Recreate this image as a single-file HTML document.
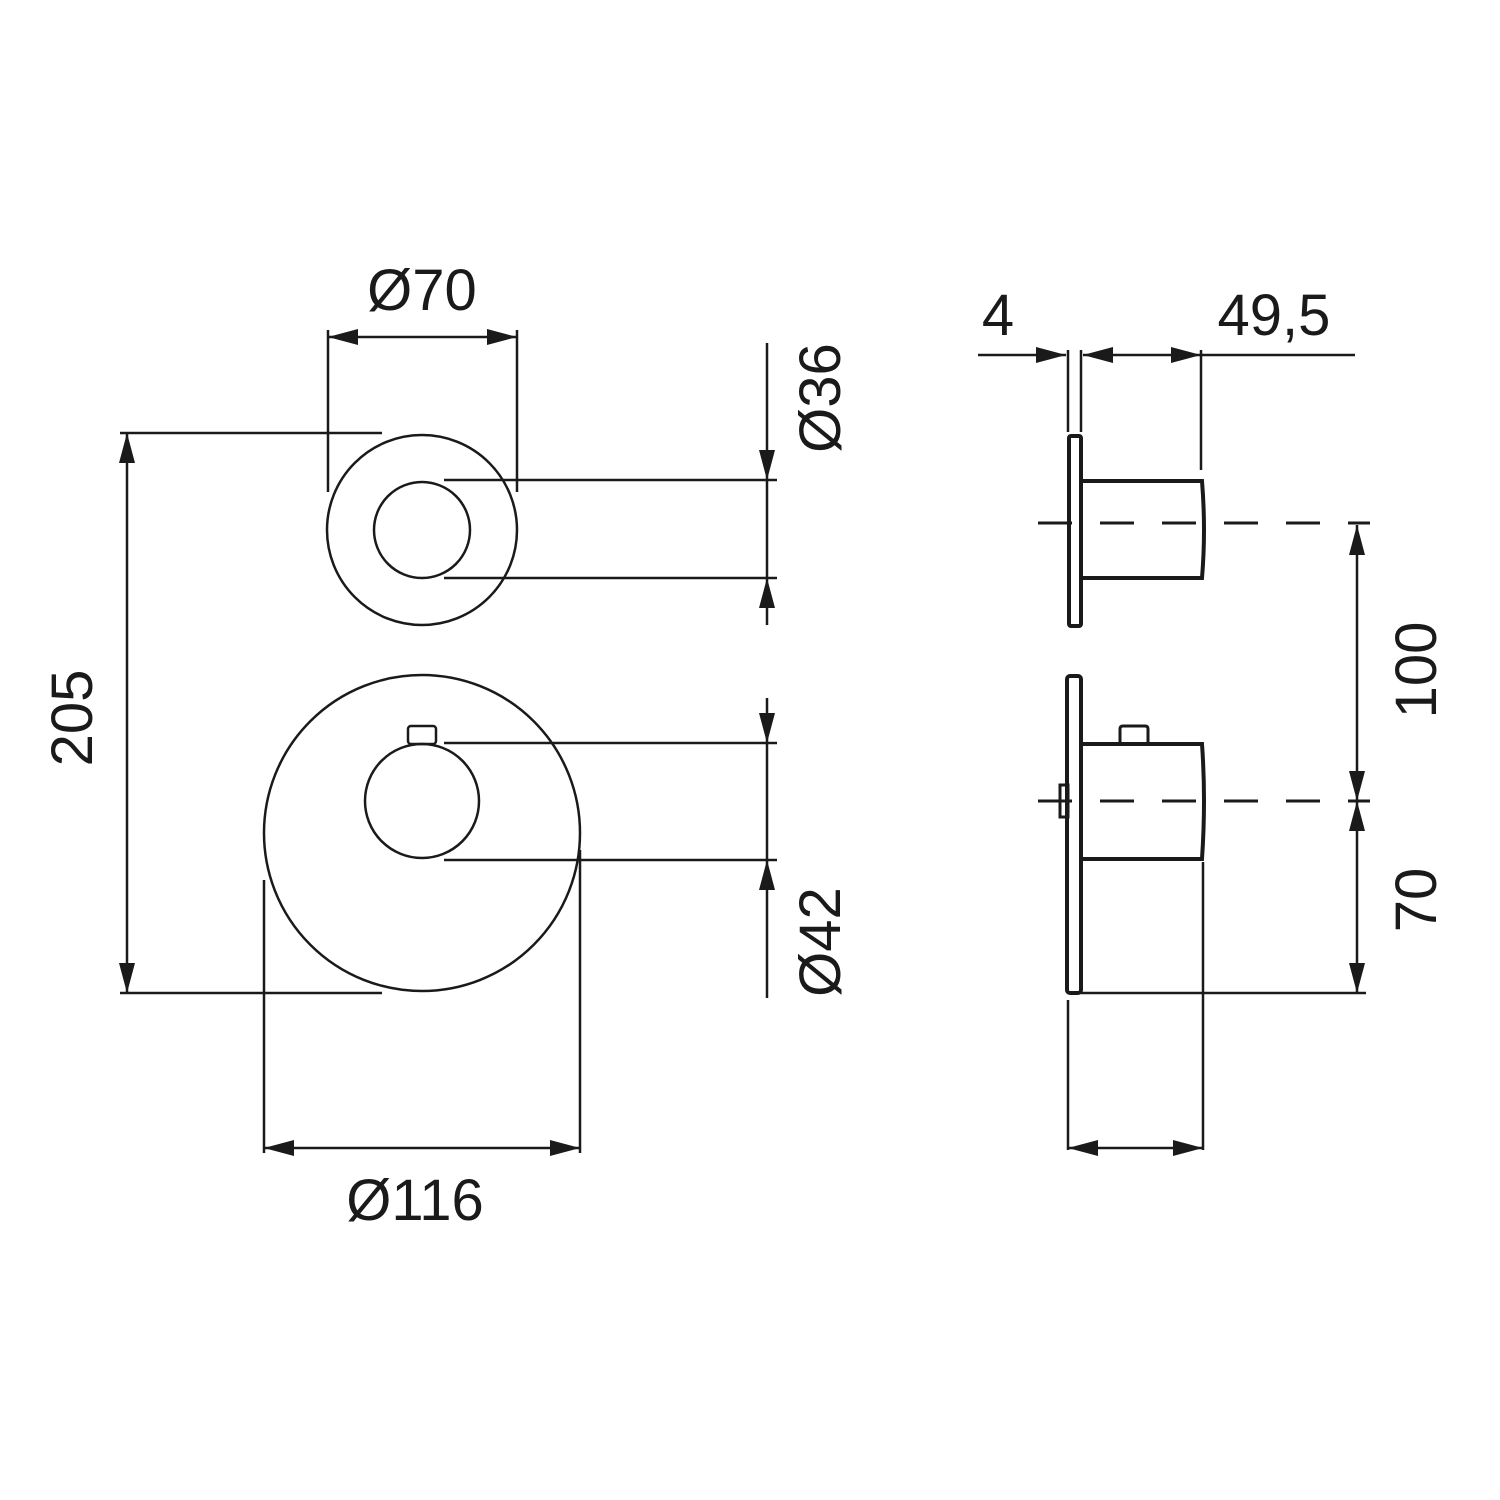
<!DOCTYPE html>
<html><head><meta charset="utf-8"><style>html,body{margin:0;padding:0;background:#fff}svg{display:block}</style></head>
<body>
<svg width="1500" height="1500" viewBox="0 0 1500 1500" xmlns="http://www.w3.org/2000/svg">
<defs>
<marker id="a" viewBox="0 0 30 16" refX="30" refY="8" markerWidth="30" markerHeight="16" markerUnits="userSpaceOnUse" orient="auto-start-reverse"><path d="M0,0 L30,8 L0,16 Z" fill="#1a1a1a"/></marker>
</defs>
<g fill="none" stroke="#1a1a1a" stroke-width="2.5">
<!-- left view circles -->
<circle cx="422" cy="530" r="95"/>
<circle cx="422" cy="530" r="48"/>
<circle cx="422" cy="833" r="158"/>
<circle cx="422" cy="801" r="57"/>
<rect x="408" y="726" width="28" height="18" rx="3"/>
<!-- Ø70 -->
<line x1="328" y1="330" x2="328" y2="492"/>
<line x1="517" y1="330" x2="517" y2="492"/>
<line x1="328" y1="337" x2="517" y2="337" marker-start="url(#a)" marker-end="url(#a)"/>
<!-- 205 -->
<line x1="120" y1="433" x2="382" y2="433"/>
<line x1="120" y1="993" x2="382" y2="993"/>
<line x1="127" y1="433" x2="127" y2="993" marker-start="url(#a)" marker-end="url(#a)"/>
<!-- Ø36 -->
<line x1="444" y1="480" x2="777" y2="480"/>
<line x1="444" y1="578" x2="777" y2="578"/>
<line x1="767" y1="343" x2="767" y2="480" marker-end="url(#a)"/>
<line x1="767" y1="480" x2="767" y2="578"/>
<line x1="767" y1="625" x2="767" y2="578" marker-end="url(#a)"/>
<!-- Ø42 -->
<line x1="444" y1="743" x2="777" y2="743"/>
<line x1="444" y1="860" x2="777" y2="860"/>
<line x1="767" y1="698" x2="767" y2="743" marker-end="url(#a)"/>
<line x1="767" y1="743" x2="767" y2="860"/>
<line x1="767" y1="998" x2="767" y2="860" marker-end="url(#a)"/>
<!-- Ø116 -->
<line x1="264" y1="880" x2="264" y2="1153"/>
<line x1="580" y1="850" x2="580" y2="1153"/>
<line x1="264" y1="1148" x2="580" y2="1148" marker-start="url(#a)" marker-end="url(#a)"/>
<!-- side view top -->
<rect x="1069" y="436" width="12" height="190" stroke-width="4" rx="2"/>
<path d="M1081,481 H1202 Q1206,530 1202,578 H1081" stroke-width="4"/>
<line x1="1038" y1="523" x2="1370" y2="523" stroke-dasharray="34,28" stroke-width="3"/>
<!-- side view bottom -->
<rect x="1067" y="676" width="14" height="317" stroke-width="4" rx="3"/>
<path d="M1081,744 H1202 Q1206,800 1202,859 H1081" stroke-width="4"/>
<path d="M1120,744 V729 Q1120,726 1123,726 H1145 Q1148,726 1148,729 V744" stroke-width="3"/>
<rect x="1060" y="785" width="8" height="32" stroke-width="3"/>
<line x1="1038" y1="801" x2="1370" y2="801" stroke-dasharray="34,28" stroke-width="3"/>
<!-- top dims -->
<line x1="1068" y1="350" x2="1068" y2="432"/>
<line x1="1081" y1="350" x2="1081" y2="432"/>
<line x1="1201" y1="350" x2="1201" y2="470"/>
<line x1="978" y1="355" x2="1066" y2="355" marker-end="url(#a)"/>
<line x1="1083" y1="355" x2="1201" y2="355" marker-start="url(#a)" marker-end="url(#a)"/>
<line x1="1201" y1="355" x2="1355" y2="355"/>
<!-- right dims -->
<line x1="1081" y1="993" x2="1366" y2="993"/>
<line x1="1357" y1="525" x2="1357" y2="801" marker-start="url(#a)" marker-end="url(#a)"/>
<line x1="1357" y1="801" x2="1357" y2="993" marker-start="url(#a)" marker-end="url(#a)"/>
<!-- bottom dim -->
<line x1="1068" y1="1000" x2="1068" y2="1150"/>
<line x1="1203" y1="862" x2="1203" y2="1150"/>
<line x1="1068" y1="1148" x2="1203" y2="1148" marker-start="url(#a)" marker-end="url(#a)"/>
</g>
<g font-family="Liberation Sans, sans-serif" font-size="58" fill="#1a1a1a">
<text x="422" y="310" text-anchor="middle">Ø70</text>
<text x="415" y="1220" text-anchor="middle">Ø116</text>
<text x="998" y="335" text-anchor="middle">4</text>
<text x="1274" y="335" text-anchor="middle">49,5</text>
<text transform="translate(92,718) rotate(-90)" text-anchor="middle">205</text>
<text transform="translate(840,398) rotate(-90)" text-anchor="middle">Ø36</text>
<text transform="translate(840,942) rotate(-90)" text-anchor="middle">Ø42</text>
<text transform="translate(1436,670) rotate(-90)" text-anchor="middle">100</text>
<text transform="translate(1436,900) rotate(-90)" text-anchor="middle">70</text>
</g>
</svg>
</body></html>
